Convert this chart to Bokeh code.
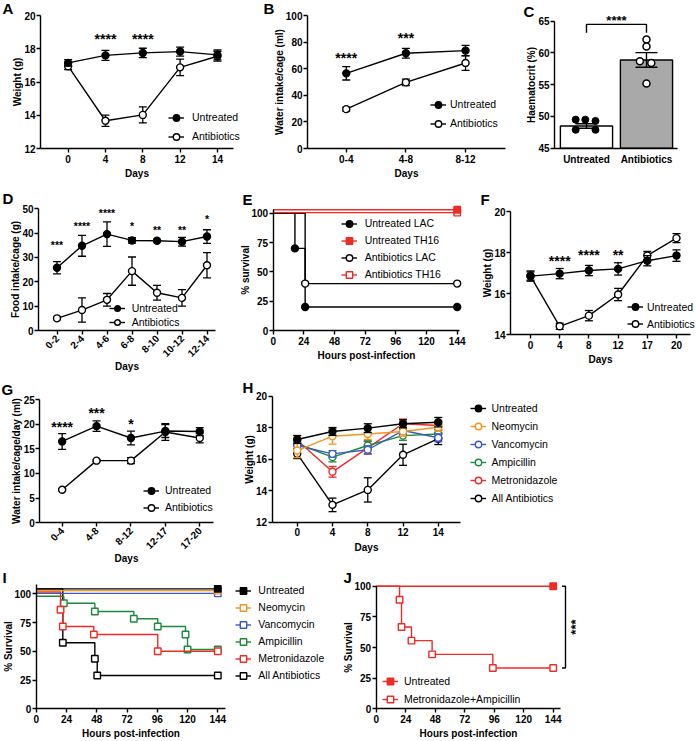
import math
from bokeh.plotting import figure
from bokeh.models import (Range1d, FixedTicker, Label, Legend, LegendItem,
                          ColumnDataSource, LinearAxis)
from bokeh.embed import file_html
from bokeh.resources import INLINE

# ------------------------------------------------------------------ data
# A: body weight
a_days = ["0", "4", "8", "12", "14"]
a_untreated = [17.15, 17.6, 17.75, 17.83, 17.63]
a_untreated_sem = [0.2, 0.3, 0.28, 0.27, 0.3]
a_antibiotics = [16.95, 13.67, 14.02, 16.88, 17.55]
a_antibiotics_sem = [0.2, 0.34, 0.48, 0.5, 0.3]
a_sig = ["", "****", "****", "", ""]
a_sig_y = [0, 18.75, 18.75, 0, 0]

# B: water intake
b_days = ["0-4", "4-8", "8-12"]
b_untreated = [56.5, 71.6, 73.6]
b_untreated_sem = [5.0, 3.7, 4.0]
b_antibiotics = [29.6, 49.7, 64.3]
b_antibiotics_sem = [1.5, 2.5, 5.5]
b_sig = ["****", "***", ""]
b_sig_y = [70.0, 85.7, 0]

# C: haematocrit
c_groups = ["Untreated", "Antibiotics"]
c_means = [48.5, 58.9]
c_sem = [0.35, 1.15]
c_untreated_pts = [49.5, 49.5, 49.3, 47.9, 47.9]
c_untreated_jit = [-0.18, -0.02, 0.15, -0.18, 0.15]
c_antibiotics_pts = [62.1, 61.0, 58.7, 58.4, 55.2]
c_antibiotics_jit = [0.0, 0.0, -0.11, 0.08, 0.0]
c_sig = "****"
c_bracket = [63.2, 64.5]
c_sig_y = 65.6

# D: food intake
d_days = ["0-2", "2-4", "4-6", "6-8", "8-10", "10-12", "12-14"]
d_untreated = [25.8, 34.8, 39.6, 37.0, 36.9, 36.5, 38.6]
d_untreated_sem = [2.5, 4.3, 5.0, 1.1, 0.5, 1.8, 2.8]
d_antibiotics = [5.0, 8.4, 12.6, 24.4, 15.5, 13.4, 26.8]
d_antibiotics_sem = [0.5, 5.0, 2.6, 5.8, 3.0, 3.4, 5.2]
d_sig = ["***", "****", "****", "*", "**", "**", "*"]
d_sig_y = [36.2, 44.0, 49.3, 44.0, 42.3, 42.3, 46.8]

# E: survival
e_untr_lac_t = [0, 17, 25, 144]
e_untr_lac_s = [100, 70, 20, 20]
e_untr_th16_t = [0, 144]
e_untr_th16_s = [103, 103]
e_abx_lac_t = [0, 25, 144]
e_abx_lac_s = [100, 40, 40]
e_abx_th16_t = [0, 144]
e_abx_th16_s = [100.5, 100.5]

# F: body weight (second experiment)
f_days = ["0", "4", "8", "12", "17", "20"]
f_untreated = [16.85, 16.97, 17.12, 17.2, 17.6, 17.85]
f_untreated_sem = [0.25, 0.25, 0.25, 0.3, 0.25, 0.28]
f_antibiotics = [16.85, 14.4, 14.92, 15.95, 17.85, 18.7]
f_antibiotics_sem = [0.2, 0.15, 0.25, 0.3, 0.2, 0.22]
f_sig = ["", "****", "****", "**", "", ""]
f_sig_y = [0, 17.74, 18.01, 18.01, 0, 0]

# G: water intake per day
g_days = ["0-4", "4-8", "8-12", "12-17", "17-20"]
g_untreated = [16.5, 19.6, 17.2, 18.6, 18.5]
g_untreated_sem = [1.6, 1.05, 1.4, 1.3, 0.8]
g_antibiotics = [6.7, 12.6, 12.6, 18.4, 17.2]
g_antibiotics_sem = [0.2, 0.2, 0.6, 1.7, 1.0]
g_sig = ["****", "***", "*", "", ""]
g_sig_y = [20.1, 22.8, 20.75, 0, 0]

# H: weight, single antibiotics
h_days = ["0", "4", "8", "12", "14"]
h_untreated = [17.25, 17.76, 17.97, 18.25, 18.35]
h_untreated_sem = [0.25, 0.25, 0.28, 0.25, 0.3]
h_neomycin = [16.55, 17.46, 17.6, 17.76, 18.03]
h_neomycin_sem = [0.45, 0.5, 0.35, 0.3, 0.25]
h_vancomycin = [16.87, 16.34, 16.6, 17.82, 17.36]
h_vancomycin_sem = [0.2, 0.2, 0.25, 0.25, 0.25]
h_ampicillin = [16.98, 16.13, 16.87, 17.5, 17.6]
h_ampicillin_sem = [0.3, 0.3, 0.3, 0.3, 0.25]
h_metronidazole = [17.2, 15.2, 16.72, 18.25, 18.14]
h_metronidazole_sem = [0.3, 0.34, 0.4, 0.3, 0.25]
h_all = [16.34, 13.1, 14.05, 16.28, 17.3]
h_all_sem = [0.3, 0.43, 0.77, 0.67, 0.37]

# I: survival, single antibiotics
i_untr_t = [0, 144]
i_untr_s = [104.3, 104.3]
i_neo_t = [0, 144]
i_neo_s = [102.8, 102.8]
i_van_t = [0, 144]
i_van_s = [100.4, 100.4]
i_amp_t = [0, 21.9, 46.5, 77.4, 96.4, 118.4, 120, 144]
i_amp_s = [97.9, 91.8, 84.6, 78.3, 71.6, 64.6, 51.6, 51.6]
i_met_t = [0, 19.3, 21.1, 45.7, 96.4, 144]
i_met_s = [101.6, 86.1, 71.6, 64.6, 50.1, 50.1]
i_all_t = [0, 21.1, 46.5, 48.4, 144]
i_all_s = [104.3, 57.4, 43.5, 29.0, 29.0]

# J: survival, metronidazole + ampicillin
j_untr_t = [0, 144]
j_untr_s = [100, 100]
j_ma_t = [0, 19, 20.6, 28.7, 45.5, 94.9, 144]
j_ma_s = [100, 88.9, 66.7, 55.6, 44.4, 33.3, 33.3]
j_sig = "***"
j_bracket = [33.3, 100]

hours_ticks = [0, 24, 48, 72, 96, 120, 144]
surv_ticks = [0, 25, 50, 75, 100]

# ------------------------------------------------------------------ style
REF_W, REF_H = 696, 741
W, H = 696, 741
SX, SY = W / REF_W, H / REF_H
FONT = "Liberation Sans"
BLACK = "#000000"
RED = "#EE2B24"
ORANGE = "#F7931E"
BLUE = "#3A5BC4"
GREEN = "#1B8A3C"
GREY = "#A9A9A9"
MS = 7      # marker size of the line charts
SQ = 6.5    # marker size of the survival curves

p = figure(width=W, height=H, x_range=Range1d(0, REF_W), y_range=Range1d(REF_H, 0),
           x_axis_type=None, y_axis_type=None, output_backend="svg",
           toolbar_location=None, title=None,
           min_border_left=0, min_border_right=0, min_border_top=0, min_border_bottom=0)
p.outline_line_color = None

XR, YR = {}, {}


class Panel:
    """A panel: its frame box (reference pixels) holding the data box xr x yr."""

    def __init__(self, name, frame, xr, yr):
        self.n = name
        fx0, fy0, fx1, fy1 = frame
        self.ppx = (fx1 - fx0) / (xr[1] - xr[0])
        self.ppy = (fy1 - fy0) / (yr[1] - yr[0])
        self.fx0, self.fy1 = fx0, fy1
        self.xr, self.yr = xr, yr
        XR[name] = Range1d(xr[0] - fx0 / self.ppx, xr[0] + (REF_W - fx0) / self.ppx)
        YR[name] = Range1d(yr[0] - (REF_H - fy1) / self.ppy, yr[0] + fy1 / self.ppy)

    def kw(self):
        return dict(x_range_name=self.n, y_range_name=self.n)

    def dx(self, X):
        return self.xr[0] + (X - self.fx0) / self.ppx

    def dy(self, Y):
        return self.yr[0] + (self.fy1 - Y) / self.ppy

    def spx(self):
        return self.ppx * SX

    def spy(self):
        return self.ppy * SY


def style_axis(ax):
    ax.axis_line_width = 1.4
    ax.axis_line_color = BLACK
    ax.major_tick_line_width = 1.4
    ax.major_tick_line_color = BLACK
    ax.major_tick_out = 4
    ax.major_tick_in = 0
    ax.minor_tick_line_color = None
    ax.major_label_text_font = FONT
    ax.major_label_text_font_style = "bold"
    ax.major_label_text_font_size = "10px"
    ax.major_label_text_color = BLACK
    ax.major_label_standoff = 1
    ax.axis_label_text_font = FONT
    ax.axis_label_text_font_style = "bold"
    ax.axis_label_text_font_size = "10px"
    ax.axis_label_text_color = BLACK
    ax.axis_label_standoff = -2


def axes(P, xticks, yticks, xlabel, ylabel, xlabels=None, xbounds=None, ybounds=None,
         orient=None, xtick_out=4, xstandoff=2):
    xb = xbounds or P.xr
    yb = ybounds or P.yr
    xa = LinearAxis(fixed_location=yb[0], bounds=xb, ticker=FixedTicker(ticks=xticks), **P.kw())
    style_axis(xa)
    xa.major_tick_out = xtick_out
    xa.major_label_standoff = xstandoff
    xa.axis_label_standoff = 2
    if xlabels is not None:
        xa.major_label_overrides = {t: l for t, l in zip(xticks, xlabels)}
    if orient is not None:
        xa.major_label_orientation = orient
        xa.axis_label_standoff = -2
    if xlabel:
        xa.axis_label = xlabel
    p.add_layout(xa, "below")
    ya = LinearAxis(fixed_location=xb[0], bounds=yb, ticker=FixedTicker(ticks=yticks), **P.kw())
    style_axis(ya)
    if ylabel:
        ya.axis_label = ylabel
    p.add_layout(ya, "left")


def letter(ch, X, Yc):
    p.add_layout(Label(x=X, y=Yc, text=ch, text_font=FONT, text_font_style="bold",
                       text_font_size="15px", text_align="left",
                       text_baseline="middle", text_color=BLACK))


def star(P, x, yc, text, size=14):
    y = yc - 0.22 * size / P.spy()
    p.add_layout(Label(x=x, y=y, text=text, text_font=FONT, text_font_size=f"{size}px",
                       text_font_style="bold", text_align="center", text_baseline="middle",
                       text_color=BLACK, **P.kw()))


def stars(P, texts, ys, size=14):
    for i, (t, y) in enumerate(zip(texts, ys)):
        if t:
            star(P, i, y, t, size)


def series(P, ys, errs, color, fill, marker="circle", size=MS):
    xs = list(range(len(ys)))
    src = ColumnDataSource(dict(x=xs, y=ys, lo=[y - e for y, e in zip(ys, errs)],
                                hi=[y + e for y, e in zip(ys, errs)]))
    k = P.kw()
    p.segment(x0="x", y0="lo", x1="x", y1="hi", source=src, line_color=color, line_width=1.3, **k)
    p.scatter(x="x", y="lo", marker="dash", size=8, source=src, line_color=color,
              line_width=1.3, **k)
    p.scatter(x="x", y="hi", marker="dash", size=8, source=src, line_color=color,
              line_width=1.3, **k)
    ln = p.line(x="x", y="y", source=src, line_color=color, line_width=1.4, **k)
    mk = p.scatter(x="x", y="y", source=src, marker=marker, size=size, line_color=color,
                   fill_color=fill, line_width=1.4, **k)
    return [ln, mk]


def surv(P, t, s, color, fill, marker="square", size=SQ):
    k = P.kw()
    src = ColumnDataSource(dict(t=t, s=s))
    ln = p.step(x="t", y="s", source=src, mode="after", line_color=color, line_width=1.4, **k)
    msrc = ColumnDataSource(dict(t=t[1:], s=s[1:]))
    mk = p.scatter(x="t", y="s", source=msrc, marker=marker, size=size, line_color=color,
                   fill_color=fill, line_width=1.4, **k)
    return [ln, mk]


def legend(entries, gx, y0, step, tx, gw=16):
    rh = int(round(step * SY))
    n = len(entries)
    left = gx * SX - gw / 2
    top = y0 * SY - rh / 2
    bottom = top + n * rh
    standoff = max(0, int(round((tx - gx) * SX - gw / 2)))
    items = [LegendItem(label=lab, renderers=r) for lab, r in entries]
    leg = Legend(items=items, location=(left, H - bottom), orientation="vertical",
                 glyph_width=gw, glyph_height=rh, label_height=rh, spacing=0,
                 padding=0, margin=0, label_standoff=standoff,
                 border_line_color=None, background_fill_alpha=0,
                 label_text_font=FONT, label_text_font_size="10.5px",
                 label_text_color=BLACK)
    p.add_layout(leg)


def idx(labels):
    return list(range(len(labels)))


# ------------------------------------------------------------------ A
A = Panel("A", (40, 15, 233, 148), (-0.74, 4.43), (12, 20))
axes(A, idx(a_days), [12, 14, 16, 18, 20], "Days", "Weight (g)", xlabels=a_days)
ra = series(A, a_antibiotics, a_antibiotics_sem, BLACK, "white")
ru = series(A, a_untreated, a_untreated_sem, BLACK, BLACK)
stars(A, a_sig, a_sig_y)
legend([("Untreated", ru), ("Antibiotics", ra)], 176, 117, 19, 192)
letter("A", 2, 8)

# ------------------------------------------------------------------ B
B = Panel("B", (307, 15, 505, 148), (-0.65, 2.67), (0, 100))
axes(B, idx(b_days), [0, 20, 40, 60, 80, 100], "Days", "Water intake/cage (ml)", xlabels=b_days)
rb_a = series(B, b_antibiotics, b_antibiotics_sem, BLACK, "white")
rb_u = series(B, b_untreated, b_untreated_sem, BLACK, BLACK)
stars(B, b_sig, b_sig_y)
legend([("Untreated", rb_u), ("Antibiotics", rb_a)], 438, 104, 19, 450)
letter("B", 263, 8)

# ------------------------------------------------------------------ C
C = Panel("C", (554, 20.7, 677, 147.7), (-0.533, 1.517), (45, 65))
axes(C, idx(c_groups), [45, 50, 55, 60, 65], None, "Haematocrit (%)", xlabels=c_groups,
     xtick_out=0, xstandoff=6)
kc = C.kw()
cx = idx(c_groups)
csrc = ColumnDataSource(dict(x=cx, top=c_means, lo=[m - e for m, e in zip(c_means, c_sem)],
                             hi=[m + e for m, e in zip(c_means, c_sem)],
                             fill=["white", GREY]))
p.vbar(x="x", top="top", bottom=45, width=0.87, source=csrc, fill_color="fill",
       line_color=BLACK, line_width=1.4, **kc)
p.segment(x0="x", y0="lo", x1="x", y1="hi", source=csrc, line_color=BLACK, line_width=1.4, **kc)
p.scatter(x="x", y="lo", marker="dash", size=22, source=csrc, line_color=BLACK,
          line_width=1.4, **kc)
p.scatter(x="x", y="hi", marker="dash", size=22, source=csrc, line_color=BLACK,
          line_width=1.4, **kc)
p.scatter(x=[cx[0] + j for j in c_untreated_jit], y=c_untreated_pts, marker="circle", size=7,
          fill_color=BLACK, line_color=BLACK, **kc)
p.scatter(x=[cx[1] + j for j in c_antibiotics_jit], y=c_antibiotics_pts, marker="circle",
          size=7, fill_color="white", line_color=BLACK, line_width=1.5, **kc)
p.line(x=[cx[0], cx[0], cx[1], cx[1]], y=[c_bracket[0], c_bracket[1], c_bracket[1], c_bracket[0]],
       line_color=BLACK, line_width=1.4, **kc)
star(C, 0.5, c_sig_y, c_sig, 13)
letter("C", 523, 10.5)

# ------------------------------------------------------------------ D
D = Panel("D", (38, 208.3, 215, 330), (-0.74, 6.34), (0, 50))
axes(D, idx(d_days), [0, 10, 20, 30, 40, 50], "Days", "Food intake/cage (g)", xlabels=d_days,
     orient=math.pi / 4)
rd_a = series(D, d_antibiotics, d_antibiotics_sem, BLACK, "white")
rd_u = series(D, d_untreated, d_untreated_sem, BLACK, BLACK)
stars(D, d_sig, d_sig_y, 10.5)
legend([("Untreated", rd_u), ("Antibiotics", rd_a)], 116.7, 308.3, 14.4, 131.7)
letter("D", 2, 198)

# ------------------------------------------------------------------ E
E = Panel("E", (272.7, 212.7, 456.7, 330), (0, 144), (0, 100))
axes(E, hours_ticks, surv_ticks, "Hours post-infection", "% survival",
     xbounds=(0, 146), ybounds=(0, 103.2))
re1 = surv(E, e_untr_lac_t, e_untr_lac_s, BLACK, BLACK, "circle", MS)
re3 = surv(E, e_abx_lac_t, e_abx_lac_s, BLACK, "white", "circle", MS)
re4 = surv(E, e_abx_th16_t, e_abx_th16_s, RED, "white", "square", SQ)
re2 = surv(E, e_untr_th16_t, e_untr_th16_s, RED, RED, "square", SQ)
legend([("Untreated LAC", re1), ("Untreated TH16", re2), ("Antibiotics LAC", re3),
        ("Antibiotics TH16", re4)], 348.7, 223.3, 17, 365)
letter("E", 242, 199)

# ------------------------------------------------------------------ F
F = Panel("F", (510, 211, 690, 334), (-0.685, 5.48), (14, 20))
axes(F, idx(f_days), [14, 16, 18, 20], "Days", "Weight (g)", xlabels=f_days)
rf_a = series(F, f_antibiotics, f_antibiotics_sem, BLACK, "white")
rf_u = series(F, f_untreated, f_untreated_sem, BLACK, BLACK)
stars(F, f_sig, f_sig_y)
legend([("Untreated", rf_u), ("Antibiotics", rf_a)], 635, 306.7, 17.3, 646.7)
letter("F", 480, 199)

# ------------------------------------------------------------------ G
G = Panel("G", (39.3, 399, 213, 522.3), (-0.65, 4.4), (0, 25))
axes(G, idx(g_days), [0, 5, 10, 15, 20, 25], "Days", "Water intake/cage/day (ml)",
     xlabels=g_days, orient=math.pi / 4)
rg_a = series(G, g_antibiotics, g_antibiotics_sem, BLACK, "white")
rg_u = series(G, g_untreated, g_untreated_sem, BLACK, BLACK)
stars(G, g_sig, g_sig_y)
legend([("Untreated", rg_u), ("Antibiotics", rg_a)], 151, 490, 16.7, 165)
letter("G", 1, 389)

# ------------------------------------------------------------------ H
Hp = Panel("H", (271.7, 395.7, 460, 521.7), (-0.71, 4.63), (12, 20))
axes(Hp, idx(h_days), [12, 14, 16, 18, 20], "Days", "Weight (g)", xlabels=h_days)
rh_all = series(Hp, h_all, h_all_sem, BLACK, "white")
rh_met = series(Hp, h_metronidazole, h_metronidazole_sem, RED, "white")
rh_amp = series(Hp, h_ampicillin, h_ampicillin_sem, GREEN, "white")
rh_van = series(Hp, h_vancomycin, h_vancomycin_sem, BLUE, "white")
rh_neo = series(Hp, h_neomycin, h_neomycin_sem, ORANGE, "white")
rh_unt = series(Hp, h_untreated, h_untreated_sem, BLACK, BLACK)
legend([("Untreated", rh_unt), ("Neomycin", rh_neo), ("Vancomycin", rh_van),
        ("Ampicillin", rh_amp), ("Metronidazole", rh_met), ("All Antibiotics", rh_all)],
       477.5, 408.3, 17.5, 491.7)
letter("H", 242, 386.5)

# ------------------------------------------------------------------ I
I = Panel("I", (35.7, 593.3, 217.3, 708.3), (0, 144), (0, 100))
axes(I, hours_ticks, surv_ticks, "Hours post-infection", "% Survival",
     xbounds=(0, 150), ybounds=(0, 108.5))
ri_all = surv(I, i_all_t, i_all_s, BLACK, "white")
ri_amp = surv(I, i_amp_t, i_amp_s, GREEN, "white")
ri_met = surv(I, i_met_t, i_met_s, RED, "white")
ri_van = surv(I, i_van_t, i_van_s, BLUE, "white")
ri_neo = surv(I, i_neo_t, i_neo_s, ORANGE, "white")
ri_unt = surv(I, i_untr_t, i_untr_s, BLACK, BLACK)
legend([("Untreated", ri_unt), ("Neomycin", ri_neo), ("Vancomycin", ri_van),
        ("Ampicillin", ri_amp), ("Metronidazole", ri_met), ("All Antibiotics", ri_all)],
       243.3, 590, 17, 258.3)
letter("I", 2, 577)

# ------------------------------------------------------------------ J
J = Panel("J", (375.7, 585.7, 552.7, 708.3), (0, 144), (0, 100))
axes(J, hours_ticks, surv_ticks, "Hours post-infection", "% Survival",
     xbounds=(0, 150), ybounds=(0, 100))
rj_ma = surv(J, j_ma_t, j_ma_s, RED, "white")
rj_u = surv(J, j_untr_t, j_untr_s, RED, RED)
legend([("Untreated", rj_u), ("Metronidazole+Ampicillin", rj_ma)], 390, 680.7, 17.6, 404)
letter("J", 343, 577)
bx, bx0 = J.dx(565), J.dx(561.5)
p.line(x=[bx0, bx, bx, bx0], y=[j_bracket[1], j_bracket[1], j_bracket[0], j_bracket[0]],
       line_color=BLACK, line_width=1.4, **J.kw())
p.add_layout(Label(x=J.dx(571.7) + 0.22 * 13 / J.spx(), y=sum(j_bracket) / 2, text=j_sig,
                   angle=math.pi / 2, text_font=FONT, text_font_size="13px",
                   text_font_style="bold", text_align="center", text_baseline="middle",
                   text_color=BLACK, **J.kw()))

p.extra_x_ranges = XR
p.extra_y_ranges = YR

open("out.html", "w").write(file_html(p, INLINE))
